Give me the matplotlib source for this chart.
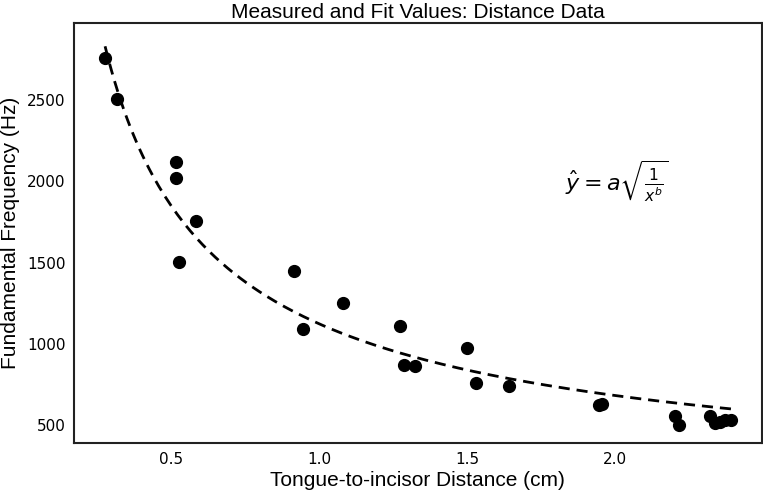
import numpy as np
import matplotlib
matplotlib.use("Agg")
import matplotlib.pyplot as plt

# measured points
distance_cm = [0.277, 0.318, 0.517, 0.517, 0.584, 0.528, 0.915, 0.947, 1.082,
               1.273, 1.288, 1.326, 1.500, 1.530, 1.644, 1.946, 1.958,
               2.202, 2.216, 2.323, 2.338, 2.354, 2.374, 2.394]
freq_hz = [2756, 2504, 2117, 2022, 1758, 1506, 1449, 1094, 1250,
           1111, 869, 865, 974, 761, 738, 622, 628,
           558, 502, 558, 515, 521, 529, 529]

# fit parameters for y = a * sqrt(1 / x**b)
fit_a = 1124.0
fit_b = 1.439

x = np.array(distance_cm)
y = np.array(freq_hz)
x_fit = np.linspace(x.min(), x.max(), 200)
y_fit = fit_a * np.sqrt(1.0 / x_fit ** fit_b)

fig = plt.figure(figsize=(7.63, 4.93), dpi=100)
ax = fig.add_axes([0.097, 0.101, 0.9015, 0.852])

ax.plot(x, y, 'o', color='black', markersize=8.5, linestyle='none')
ax.plot(x_fit, y_fit, '--', color='black', linewidth=2, dashes=(4, 2.5))

ax.text(1.83, 2000, r'$\hat{y} = a\sqrt{\frac{1}{x^b}}$', fontsize=16,
        ha='left', va='center')

ax.set_xlim(0.172, 2.497)
ax.set_ylim(389, 2973)
ax.set_xticks([0.5, 1.0, 1.5, 2.0])
ax.set_yticks([500, 1000, 1500, 2000, 2500])
ax.tick_params(length=0, labelsize=11, pad=6)

for sp in ax.spines.values():
    sp.set_linewidth(1.5)
    sp.set_color('#222222')

lab_font = dict(family='Liberation Sans', fontsize=15)
ax.set_title('Measured and Fit Values: Distance Data', pad=4, **lab_font)
ax.set_xlabel('Tongue-to-incisor Distance (cm)', labelpad=3, **lab_font)
ax.set_ylabel('Fundamental Frequency (Hz)', labelpad=5, **lab_font)

fig.savefig('out.png', dpi=100)
